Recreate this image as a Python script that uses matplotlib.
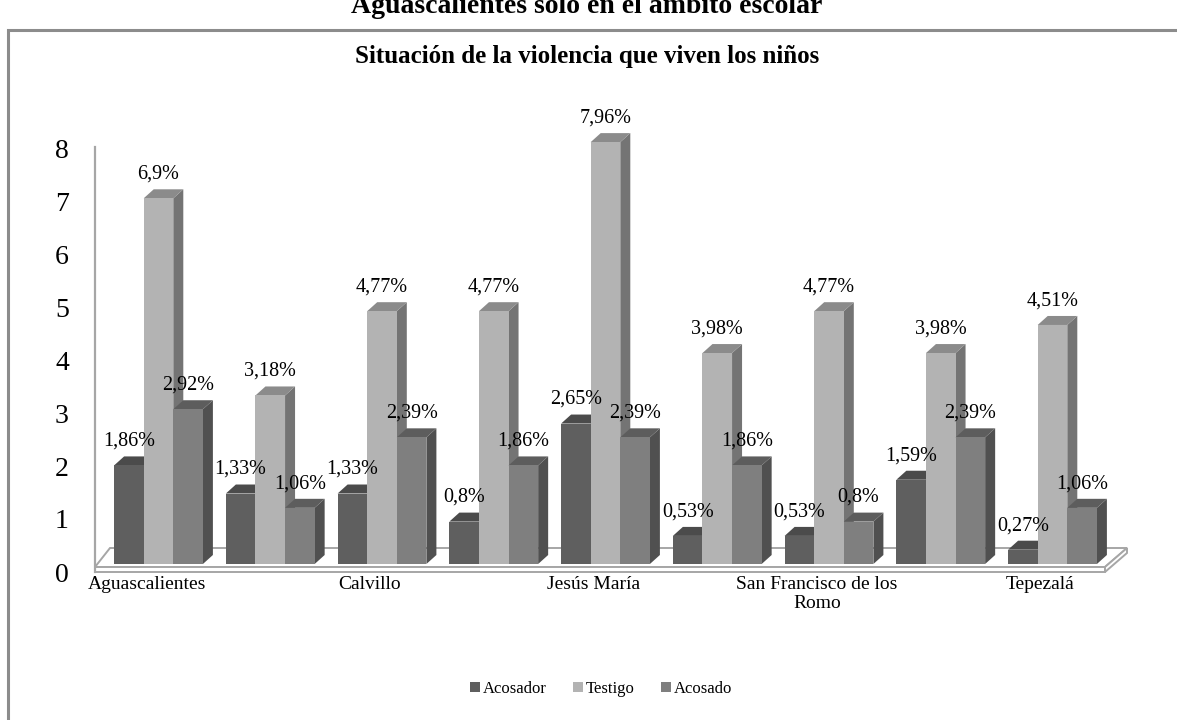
import matplotlib
matplotlib.use("Agg")
import matplotlib.pyplot as plt
from matplotlib.patches import Polygon, Rectangle, Patch

plt.rcParams['font.family'] = ['Liberation Serif', 'DejaVu Serif']

# ---------------- data ----------------
categories = ["Aguascalientes", "Asientos", "Calvillo", "Cosío", "Jesús María",
              "Pabellón de Arteaga", "San Francisco de los\nRomo",
              "San José de Gracia", "Tepezalá"]
series_names = ["Acosador", "Testigo", "Acosado"]
acosador = [1.86, 1.33, 1.33, 0.80, 2.65, 0.53, 0.53, 1.59, 0.27]
testigo = [6.90, 3.18, 4.77, 4.77, 7.96, 3.98, 4.77, 3.98, 4.51]
acosado = [2.92, 1.06, 2.39, 1.86, 2.39, 1.86, 0.80, 2.39, 1.06]
yticks = [0, 1, 2, 3, 4, 5, 6, 7, 8]
title = "Situación de la violencia que viven los niños"
top_title = "Aguascalientes solo en el ámbito escolar"

series = [acosador, testigo, acosado]
front_c = ['#5f5f5f', '#b3b3b3', '#7f7f7f']
top_c = ['#4b4b4b', '#8b8b8b', '#5d5d5d']
side_c = ['#3f3f3f', '#747474', '#505050']

# ---------------- layout (pixels) ----------------
W, H = 1177, 720
fig = plt.figure(figsize=(W / 100, H / 100), dpi=100)
AX_L, AX_R, AX_T, AX_B = 80, 1150, 120, 600
ax = fig.add_axes([AX_L / W, 1 - AX_B / H, (AX_R - AX_L) / W, (AX_B - AX_T) / H])

PX = 111.75      # pixels per category
PY = 53.0        # pixels per unit
X0PIX = 158.5    # pixel of first category centre
Y0PIX = 564.0    # pixel of value 0


def X(p):
    return (p - X0PIX) / PX


def Y(p):
    return (Y0PIX - p) / PY


ax.set_xlim(X(AX_L), X(AX_R))
ax.set_ylim(Y(AX_B), Y(AX_T))
ax.axis('off')

DX = 10 / PX
DY = 9 / PY
BW = 29.6 / PX

# floor
floor_col = '#a6a6a6'
top_face = [(X(95), Y(567)), (X(110), Y(548)), (X(1127), Y(548)), (X(1105), Y(567))]
front_face = [(X(95), Y(567)), (X(1105), Y(567)), (X(1105), Y(572)), (X(95), Y(572))]
right_face = [(X(1105), Y(567)), (X(1127), Y(548)), (X(1127), Y(553)), (X(1105), Y(572))]
for pts in (top_face, front_face, right_face):
    ax.add_patch(Polygon(pts, closed=True, facecolor='white', edgecolor=floor_col,
                         lw=1.4, zorder=1))
# vertical axis line
ax.plot([X(95), X(95)], [Y(147), Y(572)], color=floor_col, lw=1.6, zorder=1)

idx = list(range(len(categories)))
for j, vals in enumerate(series):
    pos = [i + (j - 1) * BW for i in idx]
    z = 2 + j
    ax.bar(pos, vals, width=BW, color=front_c[j], edgecolor='none', zorder=z + 0.2)
    for p, v in zip(pos, vals):
        xl, xr = p - BW / 2, p + BW / 2
        ax.add_patch(Polygon([(xr, 0), (xr, v), (xr + DX, v + DY), (xr + DX, DY)],
                             closed=True, facecolor=side_c[j], edgecolor='none',
                             zorder=z))
        ax.add_patch(Polygon([(xl, v), (xr, v), (xr + DX, v + DY), (xl + DX, v + DY)],
                             closed=True, facecolor=top_c[j], edgecolor='none',
                             zorder=z + 0.1))
        lab = f"{v:g}".replace('.', ',') + "%"
        ax.annotate(lab, (p, v + DY), xytext=(0, 4), textcoords='offset points',
                    ha='center', va='bottom', fontsize=14.5, color='black', zorder=10)

# y tick labels
for k in yticks:
    ax.text(X(62), k - 11 / PY, str(k), ha='center', va='center', fontsize=20,
            color='black')

# category labels (every other one shown)
for i in idx[::2]:
    ax.text(i - 12 / PX, Y(576), categories[i], ha='center', va='top',
            fontsize=14, linespacing=1.12, color='black')

# titles
fig.text(587 / W, 1 - 57 / H, title, ha='center', va='center', fontsize=18,
         fontweight='bold')
fig.text(587 / W, 1 - 13 / H, top_title, ha='center', va='baseline', fontsize=20,
         fontweight='bold')

# chart border
fig.add_artist(Rectangle((8 / W, -0.2), 1.2, 1.2 - 30 / H, transform=fig.transFigure,
                         fill=False, edgecolor='#8c8c8c', lw=2.2, clip_on=False))

# legend
handles = [Patch(facecolor=c, edgecolor='none') for c in front_c]
fig.legend(handles, series_names, loc='center', bbox_to_anchor=(601 / W, 1 - 689 / H),
           ncol=3, frameon=False, fontsize=12, handlelength=0.6, handleheight=0.6,
           handletextpad=0.15, columnspacing=1.6)

fig.savefig("out.png", dpi=100)
